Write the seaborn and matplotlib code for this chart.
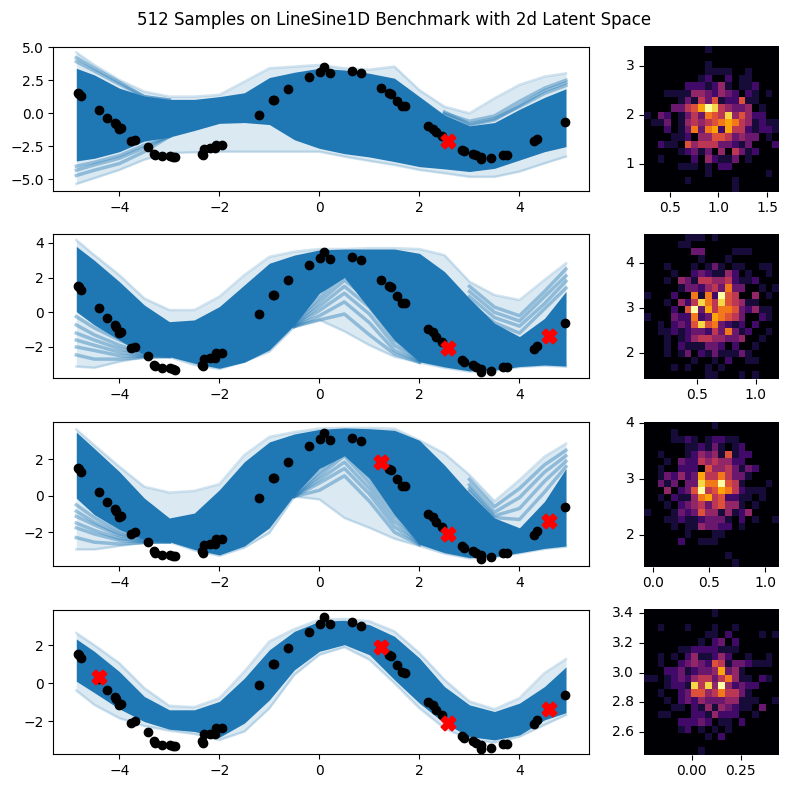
import matplotlib
matplotlib.use("Agg")
import matplotlib.pyplot as plt
import numpy as np
import seaborn as sns

TITLE = "512 Samples on LineSine1D Benchmark with 2d Latent Space"
BLUE = "#1f77b4"

# observed points
obs_x = [-4.83,-4.80,-4.76,-4.40,-4.24,-4.09,-4.07,-4.00,-3.96,-3.76,-3.69,-3.43,-3.31,-3.28,-3.14,-2.98,-2.93,-2.89,
         -2.35,-2.32,-2.31,-2.19,-2.09,-2.07,-1.95,-1.20,-0.93,-0.91,-0.62,-0.20,0.02,0.10,0.21,0.65,0.84,1.24,1.39,1.43,
         1.56,1.65,1.71,2.18,2.28,2.33,2.45,2.85,2.90,3.08,3.13,3.23,3.24,3.44,3.67,3.75,4.29,4.35,4.92]
obs_y = [1.52,1.48,1.31,0.23,-0.35,-0.71,-0.83,-1.17,-1.12,-2.08,-1.98,-2.54,-3.06,-3.12,-3.23,-3.23,-3.29,-3.31,
         -3.04,-3.12,-2.69,-2.65,-2.65,-2.37,-2.37,-0.12,1.00,0.98,1.85,2.71,3.12,3.46,3.08,3.19,3.02,1.88,1.50,1.44,
         0.94,0.56,0.52,-0.98,-1.15,-1.42,-1.69,-2.77,-2.87,-3.06,-3.13,-3.27,-3.46,-3.38,-3.17,-3.17,-2.13,-1.96,-0.63]

# conditioning points per panel
ctx_x_1 = [2.58]
ctx_y_1 = [-2.08]
ctx_x_2 = [2.58, 4.60]
ctx_y_2 = [-2.08, -1.38]
ctx_x_3 = [1.24, 2.58, 4.60]
ctx_y_3 = [1.88, -2.08, -1.38]
ctx_x_4 = [-4.40, 1.24, 2.58, 4.60]
ctx_y_4 = [0.30, 1.88, -2.08, -1.38]

# sample bands at these x positions
band_x = [-4.86,-4.5,-4,-3.5,-3,-2.5,-2,-1.5,-1,-0.5,0,0.5,1,1.5,2,2.5,3,3.5,4,4.5,4.93]

out_hi_1 = [4.60,3.65,2.52,1.64,1.26,1.26,1.39,2.39,3.40,3.53,3.65,3.40,3.30,3.53,1.75,0.50,0.00,1.13,2.15,2.77,3.02]
core_hi_1 = [3.40,2.90,1.90,1.30,1.05,1.05,1.26,1.55,2.70,3.10,3.40,3.27,3.02,2.65,1.26,-0.13,-0.95,-0.70,0.30,1.20,1.85]
core_lo_1 = [-3.60,-3.40,-2.90,-2.10,-1.80,-1.30,-0.76,-0.70,-0.85,-2.00,-2.65,-3.05,-3.30,-3.65,-4.03,-4.20,-4.40,-4.16,-3.53,-2.90,-2.52]
out_lo_1 = [-5.34,-4.90,-4.28,-3.50,-3.00,-2.95,-2.90,-2.90,-2.90,-2.90,-2.90,-3.27,-3.60,-3.90,-4.28,-4.53,-4.80,-4.80,-4.40,-3.78,-3.27]

out_hi_2 = [4.17,3.30,2.15,0.80,0.13,0.13,0.90,2.15,3.20,3.50,3.65,3.65,3.70,3.70,3.65,3.30,1.77,1.00,0.71,1.87,2.83]
core_hi_2 = [3.80,3.00,1.77,0.42,-0.54,-0.44,0.33,1.58,2.83,3.30,3.60,3.65,3.65,3.65,3.40,2.35,0.80,-0.63,-1.40,-0.35,1.20]
core_lo_2 = [0.04,-0.73,-1.60,-2.46,-2.56,-2.94,-3.23,-2.88,-2.17,-0.73,1.10,2.00,0.20,-1.60,-2.85,-3.15,-3.38,-3.33,-3.13,-3.04,-3.10]
out_lo_2 = [-3.13,-3.20,-2.85,-2.60,-2.58,-3.04,-3.27,-2.85,-2.27,-0.83,-0.44,-1.10,-1.90,-2.56,-2.90,-3.20,-3.42,-3.36,-3.16,-3.08,-3.14]

out_hi_3 = [3.65,2.78,1.60,0.50,0.18,0.27,0.64,2.24,3.24,3.50,3.70,3.73,3.73,3.69,3.05,2.33,1.15,-0.30,0.87,2.15,2.87]
core_hi_3 = [3.50,2.60,1.33,-0.13,-1.22,-0.95,0.33,1.87,2.96,3.40,3.65,3.73,3.69,3.60,3.05,1.69,0.15,-1.22,-1.76,-0.31,1.50]
core_lo_3 = [-0.13,-1.04,-1.85,-2.40,-2.53,-2.95,-3.25,-2.76,-1.76,0.05,1.50,2.20,0.96,-1.04,-2.67,-3.13,-3.40,-3.35,-3.13,-2.89,-2.76]
out_lo_3 = [-2.95,-2.95,-2.76,-2.58,-2.53,-3.00,-3.30,-2.85,-2.04,-0.04,-0.20,-1.22,-1.76,-2.36,-2.76,-3.18,-3.44,-3.38,-3.16,-2.92,-2.80]

out_hi_4 = [2.63,2.00,1.05,-0.26,-1.19,-1.26,-0.79,0.61,2.19,2.84,3.33,3.37,3.25,2.72,1.58,0.18,-0.96,-1.37,-0.79,0.53,1.26]
core_hi_4 = [2.32,1.67,0.61,-0.70,-1.40,-1.40,-0.96,0.26,1.75,2.72,3.25,3.30,3.07,2.46,1.32,-0.18,-1.14,-1.49,-1.05,-0.18,0.85]
core_lo_4 = [0.10,-0.50,-1.35,-2.02,-2.42,-2.54,-2.84,-2.10,-0.88,0.70,1.67,2.02,1.49,0.18,-1.05,-2.10,-2.81,-2.98,-2.72,-1.93,-1.55]
out_lo_4 = [-0.39,-1.14,-1.84,-2.25,-2.49,-2.67,-2.98,-2.54,-1.32,0.44,1.49,1.89,1.23,0.00,-1.32,-2.37,-2.95,-3.12,-2.81,-2.19,-1.67]

# single faint sample stretches
left_x = [-4.86,-4.5,-4,-3.5,-3]
peak_x = [-0.5,0,0.5,1,1.5,2]
vee_x = [3,3.5,4,4.5,4.93]
vee_x_1 = [2.5,3,3.5,4,4.5,4.93]

left_1 = [[3.9,3.2,2.2,1.25,1.0],[4.2,3.4,2.35,1.25,1.0],[-4.3,-3.9,-3.4,-2.6,-1.75],[-4.0,-3.7,-3.2,-2.4,-1.75],[-4.7,-4.3,-3.8,-2.9,-1.75]]
vee_1 = [[0.0,-0.6,-0.2,0.9,1.9,2.5],[0.1,-0.8,-0.4,0.5,1.5,2.1],[-0.1,-0.9,-0.5,0.6,1.7,2.3]]
left_2 = [[-0.25,-0.9,-1.6,-2.2,-2.5],[-0.73,-1.3,-1.9,-2.35,-2.5],[-1.2,-1.6,-2.1,-2.45,-2.55],
          [-1.6,-1.9,-2.3,-2.5,-2.55],[-2.0,-2.2,-2.5,-2.55,-2.55],[-2.46,-2.7,-2.7,-2.6,-2.55]]
peak_2 = [[-0.6,0.85,2.15,1.2,-0.9,-2.6],[-0.7,0.6,1.85,0.7,-1.3,-2.7],[-0.75,0.35,1.5,0.3,-1.6,-2.75],
          [-0.8,0.1,1.1,-0.1,-1.9,-2.8],[-0.82,-0.2,0.6,-0.6,-2.2,-2.85],[-0.83,-0.44,-0.1,-1.3,-2.4,-2.9]]
vee_2 = [[1.5,0.3,-0.2,1.2,2.5],[1.2,0.0,-0.5,0.9,2.1],[0.9,-0.3,-0.8,0.5,1.8],[0.5,-0.6,-1.2,0.2,1.4]]
left_3 = [[-0.5,-1.2,-1.95,-2.35,-2.5],[-0.85,-1.45,-2.1,-2.4,-2.5],[-1.13,-1.6,-2.2,-2.45,-2.53],
          [-1.5,-1.9,-2.35,-2.5,-2.53],[-1.76,-2.1,-2.45,-2.55,-2.53],[-2.3,-2.55,-2.65,-2.58,-2.53]]
peak_3 = [[0.0,1.3,2.4,1.0,-0.8,-2.5],[-0.02,1.1,2.2,0.7,-1.1,-2.55],[-0.03,0.9,1.85,0.4,-1.4,-2.6],
          [-0.04,0.7,1.5,0.1,-1.7,-2.65],[-0.04,0.3,1.1,-0.3,-2.0,-2.7]]
vee_3 = [[0.9,-0.6,0.4,1.7,2.5],[0.6,-0.9,-0.1,1.3,2.2],[0.4,-1.1,-0.7,0.8,1.9],[0.25,-1.2,-1.3,0.2,1.6]]

# latent histograms: one character per cell, 0 to a (=10), top row first
heat_1 = ["00000000010000000000","00000000000000000000","00000000010000000000","00000000011110010000",
          "00000000120020110000","00000022212410112000","00011114432432021010","00000131536122611000",
          "000033568a9543340100","10320135376594642200","01130145456787541211","00020137378285521221",
          "00001120446653433010","00211064555332130002","00000123130405312000","00100002042113010000",
          "00000111010220000000","00000000010000000010","00000010000001000000","00000000000001000000"]
heat_2 = ["00000011101000000000","00000110000000000000","00000003300001110000","00000000100010000000",
          "00010001013101100110","00001002321142010010","00010431554452112000","00000133245373300101",
          "10002007172a65004010","00010425975965411000","0000206a385776324110","10003227238765300210",
          "00102326967321202000","00112123325373120010","00010124554433400100","00010211133202001000",
          "00010130213111310000","00000001001020011000","00001010010100000000","00000000011000101000"]
heat_3 = ["00000000001000000000","00001000000000000000","00001121012211000000","00000011213101200000",
          "00100012434161220000","00010322545442200000","00100222064453132000","00132423855753310000",
          "00313033977a65100010","00040236a56875211100","00102114785622110100","00010234535644101000",
          "10001323644141240000","00011211233310201001","00001011433220100000","00000010001100000000",
          "00000200111000000000","00000000000000000000","00000000000010000000","00000000000001000000"]
heat_4 = ["00000000001000000000","00000000000000000000","00100010001001000000","00000000011020000101",
          "00000000102302000000","00000112222111000000","00101024112420010010","00100234326513321110",
          "00022312334834100000","11012324553574110210","00012219594a42322000","00100236645755310000",
          "00010232433344111001","00001102141432110300","00110002214222001000","00000222320110200000",
          "00000120101010000000","00000000010200000000","00000000000000000000","00000000100000000000"]

# axis ranges
line_ylim = [(-5.87, 5.03), (-3.79, 4.50), (-3.86, 4.04), (-3.72, 3.84)]
line_yticks = [[-5.0,-2.5,0.0,2.5,5.0], [-2,0,2,4], [-2,0,2], [-2,0,2]]
line_ylabels = [["\u22125.0","\u22122.5","0.0","2.5","5.0"], ["\u22122","0","2","4"], ["\u22122","0","2"], ["\u22122","0","2"]]
heat_xlim = [(0.237,1.62), (0.051,1.20), (-0.083,1.122), (-0.243,0.446)]
heat_ylim = [(0.43,3.42), (1.44,4.64), (1.43,4.02), (2.448,3.425)]
heat_xticks = [[0.5,1.0,1.5], [0.5,1.0], [0.0,0.5,1.0], [0.0,0.25]]
heat_xlabels = [["0.5","1.0","1.5"], ["0.5","1.0"], ["0.0","0.5","1.0"], ["0.00","0.25"]]
heat_yticks = [[1,2,3], [2,3,4], [2,3,4], [2.6,2.8,3.0,3.2,3.4]]
heat_ylabels = [["1","2","3"], ["2","3","4"], ["2","3","4"], ["2.6","2.8","3.0","3.2","3.4"]]

W, H = 788, 788
tops = [46.7, 234.3, 422.3, 610.0]
bottoms = [191.0, 378.0, 566.0, 754.0]

def rect(x0, x1, top, bot):
    return [x0 / W, 1 - bot / H, (x1 - x0) / W, (bot - top) / H]

fig = plt.figure(figsize=(7.88, 7.88), dpi=100)
fig.suptitle(TITLE, fontsize=12, x=0.5, y=0.9855, va="top")

bands = [(out_hi_1, core_hi_1, core_lo_1, out_lo_1), (out_hi_2, core_hi_2, core_lo_2, out_lo_2),
         (out_hi_3, core_hi_3, core_lo_3, out_lo_3), (out_hi_4, core_hi_4, core_lo_4, out_lo_4)]
ctx = [(ctx_x_1, ctx_y_1), (ctx_x_2, ctx_y_2), (ctx_x_3, ctx_y_3), (ctx_x_4, ctx_y_4)]
heats = [heat_1, heat_2, heat_3, heat_4]
stretches = [[(left_x, left_1), (vee_x_1, vee_1)],
             [(left_x, left_2), (peak_x, peak_2), (vee_x, vee_2)],
             [(left_x, left_3), (peak_x, peak_3), (vee_x, vee_3)],
             []]

for i in range(4):
    ax = fig.add_axes(rect(53.3, 589, tops[i], bottoms[i]))
    ohi, chi, clo, olo = bands[i]
    ax.fill_between(band_x, olo, ohi, color=BLUE, alpha=0.16, lw=0)
    for xs, curves in stretches[i]:
        for curve in curves:
            sns.lineplot(x=xs, y=curve, color=BLUE, alpha=0.4, lw=2.5, estimator=None, ax=ax)
    ax.fill_between(band_x, clo, chi, color=BLUE, lw=0, zorder=2.2)
    for curve in (ohi, olo):
        sns.lineplot(x=band_x, y=curve, color=BLUE, alpha=0.2, lw=1.8, estimator=None, ax=ax)
    sns.scatterplot(x=obs_x, y=obs_y, color="black", s=36, edgecolor="black", linewidth=1, zorder=3, ax=ax)
    sns.scatterplot(x=ctx[i][0], y=ctx[i][1], color="red", marker="X", s=100, edgecolor="red",
                    linewidth=1.5, zorder=4, ax=ax)
    ax.set_xlim(-5.32, 5.39)
    ax.set_ylim(*line_ylim[i])
    ax.set_xticks([-4, -2, 0, 2, 4], ["\u22124", "\u22122", "0", "2", "4"])
    ax.set_yticks(line_yticks[i], line_ylabels[i])

    hx = fig.add_axes(rect(644, 779, tops[i] - 0.7, bottoms[i] + 0.7))
    grid = np.array([[int(c, 16) for c in row] for row in heats[i]], dtype=float)
    sns.heatmap(grid, cmap="inferno", vmin=0, vmax=10, cbar=False, ax=hx)
    nr, nc = grid.shape
    x0, x1 = heat_xlim[i]
    y0, y1 = heat_ylim[i]
    hx.set_xticks([(v - x0) / (x1 - x0) * nc for v in heat_xticks[i]], heat_xlabels[i], rotation=0)
    hx.set_yticks([(y1 - v) / (y1 - y0) * nr for v in heat_yticks[i]], heat_ylabels[i], rotation=0)

fig.savefig("out.png", dpi=100)
